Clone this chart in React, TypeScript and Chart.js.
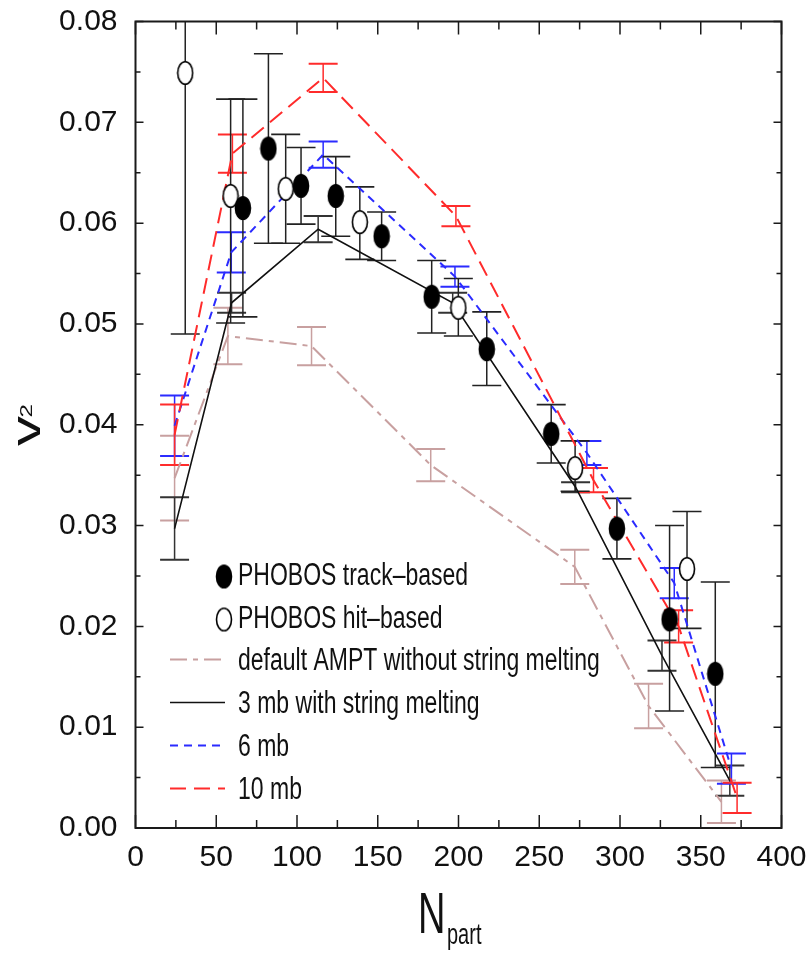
import React, { useEffect, useRef } from 'react';
import { Chart, registerables } from 'chart.js';

Chart.register(...registerables);

const TICK_FONT = '"Liberation Sans", Arial, sans-serif';
const TEXT_FONT = '"Liberation Sans", Arial, sans-serif';

// Tick labels
const xTickLabels = ['0', '50', '100', '150', '200', '250', '300', '350', '400'];
const yTickLabels = ['0.00', '0.01', '0.02', '0.03', '0.04', '0.05', '0.06', '0.07', '0.08'];

// PHOBOS track-based (filled)
const trackX = [66.5, 82.3, 102.5, 124, 152.4, 183.4, 217.5, 257.4, 298.1, 330.7, 359];
const trackY = [0.0615, 0.0674, 0.0637, 0.0627, 0.0587, 0.0527, 0.0475, 0.0391, 0.0297, 0.0207, 0.0153];
const trackLo = [0.0507, 0.058, 0.0599, 0.0587, 0.0563, 0.0491, 0.0439, 0.0362, 0.0267, 0.0116, 0.006];
const trackHi = [0.0723, 0.0768, 0.0675, 0.0666, 0.0611, 0.0563, 0.0512, 0.042, 0.0327, 0.03, 0.0244];

// PHOBOS hit-based (open)
const hitX = [30.8, 58.9, 93, 138.9, 199.9, 272.2, 341.5];
const hitY = [0.0749, 0.0627, 0.0634, 0.0601, 0.0516, 0.0357, 0.0257];
const hitLo = [0.049, 0.0501, 0.058, 0.0564, 0.0488, 0.0334, 0.0198];
const hitHi = [0.081, 0.0723, 0.0688, 0.0636, 0.0545, 0.0384, 0.0314];

// default AMPT without string melting
const ampX = [24.2, 57.2, 109, 182.8, 272, 317.7, 362.8];
const ampY = [0.0347, 0.0488, 0.0478, 0.036, 0.0259, 0.0121, 0.0026];
const ampErr = [0.0042, 0.0028, 0.0019, 0.0016, 0.0017, 0.0022, 0.0021];

// 3 mb with string melting
const mb3X = [24.2, 59.5, 113.1, 196.4, 272.5, 326, 368];
const mb3Y = [0.0297, 0.0521, 0.0594, 0.0521, 0.0338, 0.0171, 0.0047];
const mb3Err = [0.0031, 0.001, 0.0013, 0.001, 0.0005, 0.0015, 0.0015];

// 6 mb
const mb6X = [24.2, 59.3, 116.2, 197.8, 279.5, 333.6, 369];
const mb6Y = [0.0399, 0.0571, 0.0668, 0.0547, 0.0372, 0.0243, 0.0059];
const mb6Err = [0.003, 0.002, 0.0013, 0.001, 0.0012, 0.0015, 0.0015];

// 10 mb
const mb10X = [24.2, 60, 116.2, 198.4, 283.6, 336.3, 372.5];
const mb10Y = [0.039, 0.0669, 0.0744, 0.0607, 0.0345, 0.02, 0.003];
const mb10Err = [0.003, 0.0019, 0.0014, 0.001, 0.0012, 0.0016, 0.0015];

const BROWN = '#c8a0a0';
const BLACK = '#111111';
const BLUE = '#2b2bff';
const RED = '#ff2b2b';

function ellipseImage(filled: boolean): HTMLCanvasElement {
  const c = document.createElement('canvas');
  c.width = 18;
  c.height = 26;
  const g = c.getContext('2d')!;
  g.beginPath();
  g.ellipse(9, 13, 7.5, 11.3, 0, 0, Math.PI * 2);
  g.fillStyle = filled ? '#000' : '#fff';
  g.fill();
  g.lineWidth = 1.6;
  g.strokeStyle = '#000';
  g.stroke();
  return c;
}

type ErrSpec = { xs: number[]; lo: number[]; hi: number[]; color: string; width: number };

export default function App() {
  const ref = useRef<HTMLCanvasElement>(null);

  useEffect(() => {
    const canvas = ref.current!;
    const filledImg = ellipseImage(true);
    const openImg = ellipseImage(false);
    const pts = (xs: number[], ys: number[]) => xs.map((x, i) => ({ x, y: ys[i] }));

    const errSpecs: ErrSpec[] = [
      { xs: ampX, lo: ampY.map((y, i) => y - ampErr[i]), hi: ampY.map((y, i) => y + ampErr[i]), color: BROWN, width: 2 },
      { xs: mb3X, lo: mb3Y.map((y, i) => y - mb3Err[i]), hi: mb3Y.map((y, i) => y + mb3Err[i]), color: '#333', width: 2 },
      { xs: mb6X, lo: mb6Y.map((y, i) => y - mb6Err[i]), hi: mb6Y.map((y, i) => y + mb6Err[i]), color: BLUE, width: 2 },
      { xs: mb10X, lo: mb10Y.map((y, i) => y - mb10Err[i]), hi: mb10Y.map((y, i) => y + mb10Err[i]), color: RED, width: 2 },
      { xs: hitX, lo: hitLo, hi: hitHi, color: '#222', width: 1.6 },
      { xs: trackX, lo: trackLo, hi: trackHi, color: '#222', width: 1.6 },
    ];

    const errPlugin = {
      id: 'errbars',
      beforeDatasetsDraw(chart: any) {
        const { ctx, chartArea, scales } = chart;
        ctx.save();
        ctx.beginPath();
        ctx.rect(chartArea.left, chartArea.top, chartArea.right - chartArea.left, chartArea.bottom - chartArea.top);
        ctx.clip();
        for (const s of errSpecs) {
          ctx.strokeStyle = s.color;
          for (let i = 0; i < s.xs.length; i++) {
            const px = scales.x.getPixelForValue(s.xs[i]);
            const pLo = scales.y.getPixelForValue(s.lo[i]);
            const pHi = scales.y.getPixelForValue(s.hi[i]);
            ctx.lineWidth = 1.5;
            ctx.beginPath();
            ctx.moveTo(px, pLo);
            ctx.lineTo(px, pHi);
            ctx.stroke();
            ctx.lineWidth = s.width;
            ctx.beginPath();
            ctx.moveTo(px - 14.5, pLo);
            ctx.lineTo(px + 14.5, pLo);
            ctx.moveTo(px - 14.5, pHi);
            ctx.lineTo(px + 14.5, pHi);
            ctx.stroke();
          }
        }
        ctx.restore();
      },
    };

    const stretchText = (ctx: CanvasRenderingContext2D, text: string, x: number, y: number, font: string, sy: number) => {
      ctx.save();
      ctx.translate(x, y);
      ctx.scale(1, sy);
      ctx.font = font;
      ctx.textAlign = 'left';
      ctx.textBaseline = 'alphabetic';
      ctx.fillText(text, 0, 0);
      ctx.restore();
    };

    const framePlugin = {
      id: 'frame',
      afterDraw(chart: any) {
        const { ctx, chartArea, scales } = chart;
        const { left, right, top, bottom } = chartArea;
        ctx.save();
        ctx.strokeStyle = '#1a1a1a';
        ctx.lineWidth = 2;
        ctx.strokeRect(left, top, right - left, bottom - top);
        ctx.lineWidth = 1.5;
        ctx.beginPath();
        for (let v = 0; v <= 400; v += 25) {
          const px = scales.x.getPixelForValue(v);
          const len = v % 50 === 0 ? 13 : 8;
          ctx.moveTo(px, bottom);
          ctx.lineTo(px, bottom - len);
          ctx.moveTo(px, top);
          ctx.lineTo(px, top + len);
        }
        for (let k = 0; k <= 16; k++) {
          const py = scales.y.getPixelForValue(k * 0.005);
          const len = k % 2 === 0 ? 8 : 5;
          ctx.moveTo(left, py);
          ctx.lineTo(left + len, py);
          ctx.moveTo(right, py);
          ctx.lineTo(right - len, py);
        }
        ctx.stroke();

        // Axis titles
        ctx.fillStyle = '#111';
        stretchText(ctx, 'N', 418, 933, `38px ${TEXT_FONT}`, 1.5);
        stretchText(ctx, 'part', 447, 944, `20px ${TEXT_FONT}`, 1.5);

        ctx.save();
        ctx.translate(40, 431);
        ctx.rotate(-Math.PI / 2);
        ctx.scale(1.5, 1);
        ctx.font = `40px ${TEXT_FONT}`;
        ctx.textAlign = 'center';
        ctx.textBaseline = 'alphabetic';
        ctx.fillText('v', 0, 0);
        ctx.font = `16px ${TEXT_FONT}`;
        ctx.textAlign = 'left';
        ctx.fillText('2', 9, -8);
        ctx.restore();

        // Legend
        const legendFont = `23px ${TEXT_FONT}`;
        const tx = 238;
        const rows = [585, 628, 670, 713, 756, 799];
        ctx.drawImage(filledImg, 224 - 9, 576.5 - 13);
        stretchText(ctx, 'PHOBOS track\u2013based', tx, rows[0], legendFont, 1.35);
        ctx.drawImage(openImg, 224 - 9, 619.5 - 13);
        stretchText(ctx, 'PHOBOS hit\u2013based', tx, rows[1], legendFont, 1.35);

        const legLine = (y: number, color: string, dash: number[], w: number) => {
          ctx.save();
          ctx.strokeStyle = color;
          ctx.lineWidth = w;
          ctx.setLineDash(dash);
          ctx.beginPath();
          ctx.moveTo(170, y);
          ctx.lineTo(225, y);
          ctx.stroke();
          ctx.restore();
        };
        legLine(rows[2] - 10.5, BROWN, [17, 6, 5, 6], 2);
        stretchText(ctx, 'default AMPT without string melting', tx, rows[2], legendFont, 1.35);
        legLine(rows[3] - 10.5, BLACK, [], 1.6);
        stretchText(ctx, '3 mb with string melting', tx, rows[3], legendFont, 1.35);
        legLine(rows[4] - 10.5, BLUE, [8, 6], 2);
        stretchText(ctx, '6 mb', tx, rows[4], legendFont, 1.35);
        legLine(rows[5] - 10.5, RED, [16, 8], 2);
        stretchText(ctx, '10 mb', tx, rows[5], legendFont, 1.35);
        ctx.restore();
      },
    };

    const chart = new Chart(canvas, {
      type: 'scatter',
      data: {
        datasets: [
          {
            label: 'default AMPT without string melting',
            data: pts(ampX, ampY),
            showLine: true,
            borderColor: BROWN,
            borderWidth: 2,
            borderDash: [17, 6, 5, 6],
            pointRadius: 0,
            order: 6,
          },
          {
            label: '3 mb with string melting',
            data: pts(mb3X, mb3Y),
            showLine: true,
            borderColor: BLACK,
            borderWidth: 1.6,
            pointRadius: 0,
            order: 5,
          },
          {
            label: '6 mb',
            data: pts(mb6X, mb6Y),
            showLine: true,
            borderColor: BLUE,
            borderWidth: 2,
            borderDash: [8, 6],
            pointRadius: 0,
            order: 4,
          },
          {
            label: '10 mb',
            data: pts(mb10X, mb10Y),
            showLine: true,
            borderColor: RED,
            borderWidth: 2,
            borderDash: [16, 8],
            pointRadius: 0,
            order: 3,
          },
          {
            label: 'PHOBOS hit-based',
            data: pts(hitX, hitY),
            pointStyle: openImg as any,
            pointRadius: 10,
            order: 2,
          },
          {
            label: 'PHOBOS track-based',
            data: pts(trackX, trackY),
            pointStyle: filledImg as any,
            pointRadius: 10,
            order: 1,
          },
        ],
      },
      options: {
        responsive: false,
        animation: false,
        events: [],
        layout: { padding: { top: 21.5, right: 25.5, bottom: 0, left: 0 } },
        plugins: {
          legend: { display: false },
          tooltip: { enabled: false },
          title: { display: false },
        },
        scales: {
          x: {
            type: 'linear',
            min: 0,
            max: 400,
            grid: { display: false, drawTicks: false },
            border: { display: false },
            ticks: {
              stepSize: 50,
              autoSkip: false,
              maxRotation: 0,
              padding: 12,
              color: '#111',
              font: { family: TICK_FONT, size: 30 },
              callback: (v: any) => xTickLabels[Math.round(Number(v) / 50)] ?? '',
            },
            afterFit: (s: any) => {
              s.height = 131;
              s.paddingLeft = 0;
              s.paddingRight = 0;
            },
          },
          y: {
            type: 'linear',
            min: 0,
            max: 0.08,
            grid: { display: false, drawTicks: false },
            border: { display: false },
            ticks: {
              stepSize: 0.01,
              autoSkip: false,
              padding: 18,
              color: '#111',
              font: { family: TICK_FONT, size: 30 },
              callback: (v: any) => yTickLabels[Math.round(Number(v) * 100)] ?? '',
            },
            afterFit: (s: any) => {
              s.width = 135.5;
              s.paddingTop = 0;
              s.paddingBottom = 0;
            },
          },
        },
      },
      plugins: [errPlugin, framePlugin],
    });

    return () => chart.destroy();
  }, []);

  return (
    <div style={{ position: 'fixed', left: 0, top: 0, width: 807, height: 959, background: '#fff' }}>
      <canvas ref={ref} width={807} height={959} style={{ display: 'block' }} />
    </div>
  );
}
